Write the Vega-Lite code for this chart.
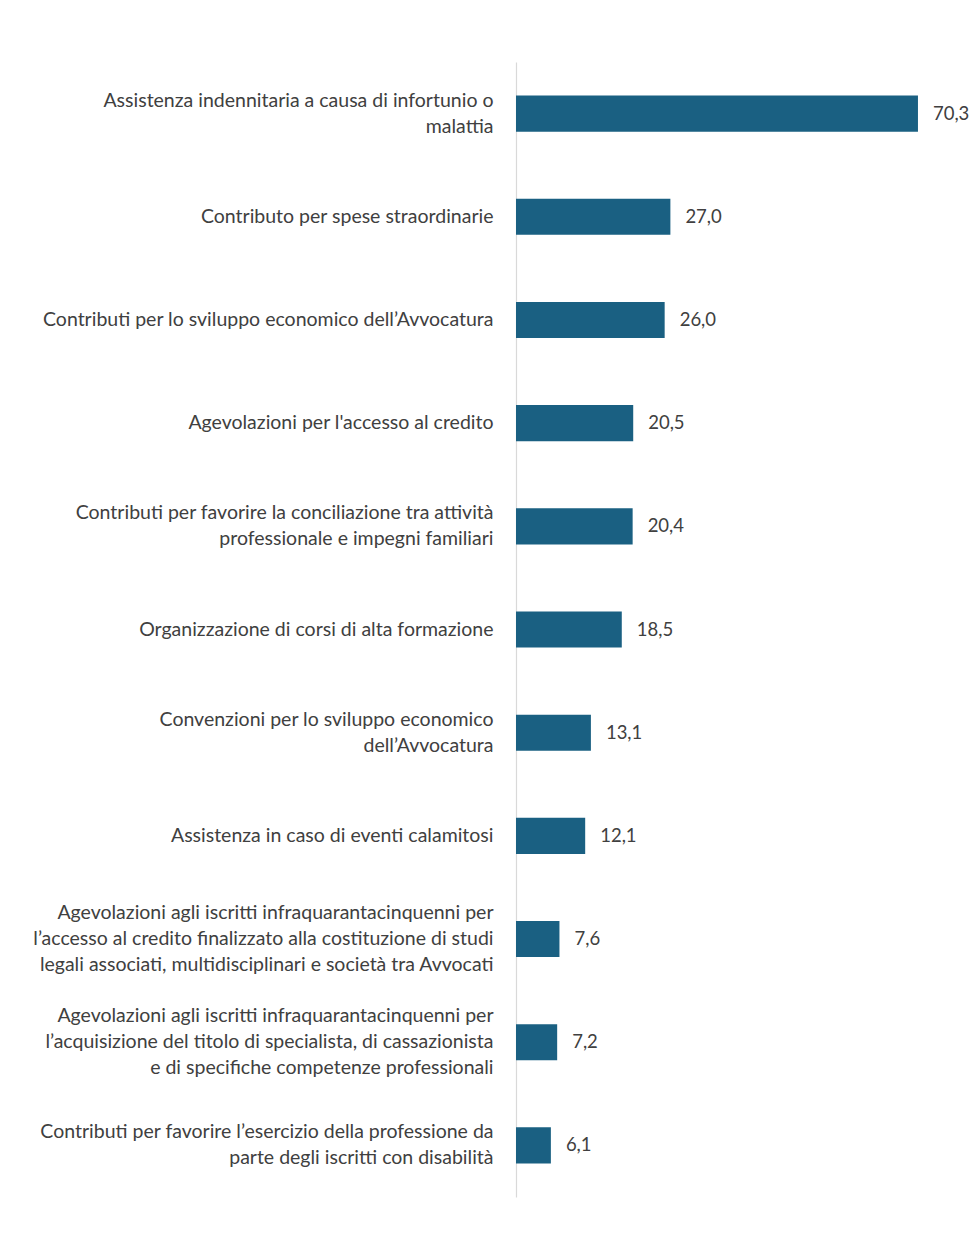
{
  "$schema": "https://vega.github.io/schema/vega-lite/v6.json",
  "autosize": {"type": "none"},
  "padding": {"left": 516, "top": 62, "right": 0, "bottom": 44},
  "width": 462,
  "height": 1135,
  "background": "#ffffff",
  "config": {
    "view": {"stroke": null},
    "font": "Lato",
    "locale": {"number": {"decimal": ",", "thousands": ".", "grouping": [3], "currency": ["€", ""]}}
  },
  "data": {
    "values": [
      {"voce": "Assistenza indennitaria a causa di infortunio o|malattia", "valore": 70.3},
      {"voce": "Contributo per spese straordinarie", "valore": 27.0},
      {"voce": "Contributi per lo sviluppo economico dell’Avvocatura", "valore": 26.0},
      {"voce": "Agevolazioni per l'accesso al credito", "valore": 20.5},
      {"voce": "Contributi per favorire la conciliazione tra attività|professionale e impegni familiari", "valore": 20.4},
      {"voce": "Organizzazione di corsi di alta formazione", "valore": 18.5},
      {"voce": "Convenzioni per lo sviluppo economico|dell’Avvocatura", "valore": 13.1},
      {"voce": "Assistenza in caso di eventi calamitosi", "valore": 12.1},
      {"voce": "Agevolazioni agli iscritti infraquarantacinquenni per|l’accesso al credito finalizzato alla costituzione di studi|legali associati, multidisciplinari e società tra Avvocati", "valore": 7.6},
      {"voce": "Agevolazioni agli iscritti infraquarantacinquenni per|l’acquisizione del titolo di specialista, di cassazionista|e di specifiche competenze professionali", "valore": 7.2},
      {"voce": "Contributi per favorire l’esercizio della professione da|parte degli iscritti con disabilità", "valore": 6.1}
    ]
  },
  "encoding": {
    "y": {
      "field": "voce",
      "type": "nominal",
      "sort": null,
      "scale": {"paddingInner": 0.65, "paddingOuter": 0.325},
      "axis": {
        "title": null,
        "ticks": false,
        "grid": false,
        "domainColor": "#d9d9d9",
        "domainWidth": 1.2,
        "labelExpr": "split(datum.label, '|')",
        "labelFontSize": 19.5,
        "labelColor": "#404040",
        "labelPadding": 23,
        "labelLimit": 600,
        "labelLineHeight": 26,
        "labelAlign": "right",
        "labelBaseline": "middle",
        "labelOffset": {
          "condition": [
            {"test": "length(split(datum.value, '|')) == 3", "value": -26},
            {"test": "length(split(datum.value, '|')) == 2", "value": -13}
          ],
          "value": 0
        }
      }
    },
    "x": {
      "field": "valore",
      "type": "quantitative",
      "scale": {"domain": [0, 80.8], "nice": false},
      "axis": null
    }
  },
  "layer": [
    {"mark": {"type": "bar", "color": "#1a6082"}},
    {
      "mark": {"type": "text", "align": "left", "baseline": "middle", "dx": 15, "fontSize": 18.5, "color": "#404040"},
      "encoding": {"text": {"field": "valore", "type": "quantitative", "format": ".1f"}}
    }
  ]
}
